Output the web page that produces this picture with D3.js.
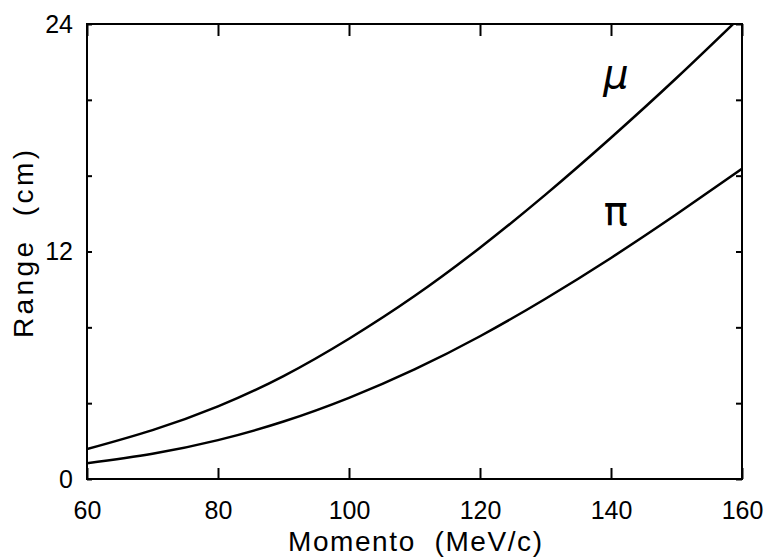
<!DOCTYPE html>
<html>
<head>
<meta charset="utf-8">
<script src="https://cdn.jsdelivr.net/npm/d3@7"></script>
<style>
    body { margin: 0; background: #fff; }
    svg { display: block; }
    .tick text { font-family: "Liberation Sans", Arial, sans-serif; font-size: 25px; fill: #000; }
    .axis_title { font-family: "Liberation Sans", Arial, sans-serif; font-size: 28px; fill: #000; white-space: pre; }
</style>
</head>
<body>
<div id="chart"></div>
<script>
// momentum (MeV/c) sample points
let momenta = [60, 70, 80, 90, 100, 110, 120, 130, 140, 150, 160];

// range (cm) for each particle
let muRange = [1.58, 2.58, 3.83, 5.43, 7.4, 9.65, 12.2, 15.0, 18.0, 21.15, 24.45];
let piRange = [0.83, 1.33, 2.05, 3.03, 4.28, 5.78, 7.53, 9.51, 11.66, 13.96, 16.36];

// axis ticks
let xTicks = [60, 80, 100, 120, 140, 160];
let yTicks = [0, 4, 8, 12, 16, 20, 24];
let yLabels = [0, 12, 24];

// curve labels: [text, momentum, range, italic]
let curveLabels = [["\u03bc", 138.8, 20.6, true], ["\u03c0", 138.9, 13.4, false]];

let width = 767, height = 559;
let margin = {top: 24, right: 25, bottom: 80, left: 87};
let plotW = width - margin.left - margin.right;
let plotH = height - margin.top - margin.bottom;

let svg = d3.select("#chart")
    .append("svg")
    .attr("width", width)
    .attr("height", height);

let g = svg.append("g")
    .attr("transform", "translate(" + margin.left + "," + margin.top + ")");

let x = d3.scaleLinear().domain([60, 160]).range([0, plotW]);
let y = d3.scaleLinear().domain([0, 24]).range([plotH, 0]);

// clip curves to the frame
g.append("clipPath")
    .attr("id", "clip")
    .append("rect")
    .attr("width", plotW)
    .attr("height", plotH);

// bottom axis, ticks pointing in
g.append("g")
    .attr("transform", "translate(0," + plotH + ")")
    .call(d3.axisBottom(x).tickValues(xTicks).tickSizeInner(-11).tickSizeOuter(0).tickPadding(22));

// top axis, ticks only
g.append("g")
    .call(d3.axisTop(x).tickValues(xTicks).tickSizeInner(-12).tickSizeOuter(0).tickFormat(""));

// left axis
g.append("g")
    .call(d3.axisLeft(y).tickValues(yTicks).tickSizeInner(-5).tickSizeOuter(0).tickPadding(14)
        .tickFormat(d => yLabels.includes(d) ? d : ""));

// right axis, ticks only
g.append("g")
    .attr("transform", "translate(" + plotW + ",0)")
    .call(d3.axisRight(y).tickValues(yTicks).tickSizeInner(-6).tickSizeOuter(0).tickFormat(""));

// drop d3's domain paths, the frame rect does the job
g.selectAll(".domain").remove();
g.selectAll(".tick line").attr("stroke", "#000").attr("stroke-width", 2);

g.append("rect")
    .attr("width", plotW)
    .attr("height", plotH)
    .attr("fill", "none")
    .attr("stroke", "#000")
    .attr("stroke-width", 2);

// curves
let line = d3.line()
    .x((d, i) => x(momenta[i]))
    .y(d => y(d))
    .curve(d3.curveNatural);

[muRange, piRange].forEach(series => {
    g.append("path")
        .datum(series)
        .attr("clip-path", "url(#clip)")
        .attr("fill", "none")
        .attr("stroke", "#000")
        .attr("stroke-width", 2.5)
        .attr("d", line);
});

// particle labels
curveLabels.forEach(l => {
    g.append("text")
        .attr("x", x(l[1]))
        .attr("y", y(l[2]))
        .attr("font-family", "DejaVu Sans, sans-serif")
        .attr("font-size", 40)
        .attr("font-style", l[3] ? "italic" : "normal")
        .text(l[0]);
});

// axis titles
svg.append("text")
    .classed("axis_title", true)
    .attr("x", 288)
    .attr("y", 551)
    .attr("textLength", 254)
    .attr("lengthAdjust", "spacing")
    .text("Momento  (MeV/c)");

svg.append("text")
    .classed("axis_title", true)
    .attr("transform", "translate(33,338) rotate(-90)")
    .attr("textLength", 188)
    .attr("lengthAdjust", "spacing")
    .text("Range  (cm)");
</script>
</body>
</html>
